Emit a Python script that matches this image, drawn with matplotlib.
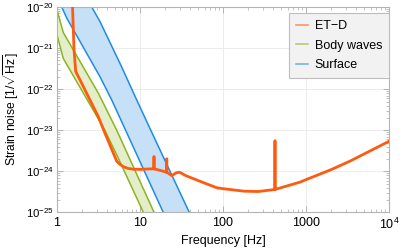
import math
import matplotlib
matplotlib.use("Agg")
import matplotlib.pyplot as plt
from matplotlib.lines import Line2D
from matplotlib.ticker import LogLocator, NullFormatter

plt.rcParams['font.family'] = ['Liberation Sans', 'DejaVu Sans']
plt.rcParams['mathtext.fontset'] = 'custom'
plt.rcParams['mathtext.rm'] = 'Liberation Sans'
plt.rcParams['mathtext.it'] = 'Liberation Sans:italic'

# ET-D sensitivity curve
etd_f = [1.535, 1.54, 1.60, 1.68, 1.89, 3.16, 3.78, 5.24, 5.75, 6.31, 7.2, 8.32, 10.0,
         13.2, 14.7, 14.75, 14.8, 17.8, 20.9, 21.0, 21.1, 24.1, 27.5, 30.2, 35.5,
         52.8, 84.0, 100.0, 180.0, 266.0, 420.0, 423.0, 426.0, 851.0, 1000.0,
         2000.0, 3390.0, 10000.0]
etd_h = [1.6e-20, 1.0e-20, 1.0e-21, 2.7e-22, 1.7e-22, 2.1e-23, 8.5e-24, 1.78e-24,
         1.48e-24, 1.30e-24, 1.18e-24, 1.13e-24, 1.12e-24,
         1.15e-24, 1.15e-24, 2.3e-24, 1.15e-24, 1.05e-24, 9.5e-25, 2.04e-24, 9.5e-25,
         7.9e-25, 9.3e-25, 9.5e-25, 7.9e-25,
         5.75e-25, 4.0e-25, 3.8e-25, 3.3e-25, 3.24e-25, 3.63e-25, 5.6e-24, 3.65e-25,
         5.5e-25, 6.3e-25,
         1.1e-24, 1.78e-24, 5.4e-24]

# body-wave Newtonian noise band
body_f_hi = [1.0, 1.19, 3.16, 5.25, 14.8, 17.8]
body_h_hi = [8.5e-21, 2.4e-21, 7.9e-23, 1.0e-23, 1.0e-25, 4.5e-26]
body_f_lo = [1.0, 1.19, 3.78, 5.69, 11.0, 13.2]
body_h_lo = [2.1e-21, 5.6e-22, 1.0e-23, 1.78e-24, 1.0e-25, 4.5e-26]

# surface-wave Newtonian noise band
surf_f_hi = [2.45, 2.62, 3.30, 6.01, 9.12, 13.5, 39.3, 45.0]
surf_h_hi = [1.6e-20, 1.0e-20, 4.4e-21, 3.5e-22, 5.5e-23, 1.0e-23, 1.0e-25, 5.0e-26]
surf_f_lo = [1.0, 1.14, 1.31, 3.30, 4.56, 19.1, 22.0]
surf_h_lo = [1.8e-20, 1.0e-20, 5.4e-21, 2.0e-22, 5.5e-23, 1.0e-25, 5.0e-26]

y_ticks = [1e-25, 1e-24, 1e-23, 1e-22, 1e-21, 1e-20]
x_ticks = [1, 10, 100, 1000, 10000]
x_tick_labels = ['1', '10', '100', '1000', r'$10^{4}$']

c_etd = '#ff5a0f'
c_body = '#8cb41e'
c_surf = '#1e8ce6'

fig = plt.figure(figsize=(4.03, 2.49), dpi=100)
ax = fig.add_axes([0.1414, 0.1466, 0.9653 - 0.1414, 0.9719 - 0.1466])
ax.set_xscale('log')
ax.set_yscale('log')

ax.fill(surf_f_hi + surf_f_lo[::-1], surf_h_hi + surf_h_lo[::-1],
        color='#c6e0f7', lw=0, zorder=1)
ax.fill(body_f_hi + body_f_lo[::-1], body_h_hi + body_h_lo[::-1],
        color='#e4eecb', lw=0, zorder=1)
ax.plot(surf_f_hi, surf_h_hi, color=c_surf, lw=1.1, zorder=2)
ax.plot(surf_f_lo, surf_h_lo, color=c_surf, lw=1.1, zorder=2)
ax.plot(body_f_hi, body_h_hi, color=c_body, lw=1.1, zorder=2)
ax.plot(body_f_lo, body_h_lo, color=c_body, lw=1.1, zorder=2)
ax.plot(etd_f, etd_h, color=c_etd, lw=2.0, zorder=3, solid_joinstyle='round')

ax.set_xlim(1, 1e4)
ax.set_ylim(1e-25, 1e-20)

ax.set_xticks(x_ticks, x_tick_labels)
ax.xaxis.set_minor_locator(LogLocator(base=10, subs=range(2, 10), numticks=20))
ax.xaxis.set_minor_formatter(NullFormatter())
ax.set_yticks(y_ticks, [r'$10^{%d}$' % round(math.log10(t)) for t in y_ticks])
ax.yaxis.set_minor_locator(LogLocator(base=10, subs=range(2, 10), numticks=20))
ax.yaxis.set_minor_formatter(NullFormatter())

ax.tick_params(which='both', direction='in', top=True, right=True,
               color='#aaaaaa', labelsize=9, pad=3)
ax.tick_params(axis='y', labelsize=8.2, pad=2)
ax.tick_params(which='major', length=4, width=0.6)
ax.tick_params(which='minor', length=2, width=0.5)
ax.grid(True, which='major', color='#ececec', lw=0.7)
ax.set_axisbelow(True)
for s in ax.spines.values():
    s.set_color('#b4b4b4')
    s.set_linewidth(0.8)

ax.set_xlabel('Frequency [Hz]', fontsize=9, labelpad=2)
ax.set_ylabel(r'Strain noise [1/$\sqrt{\mathrm{Hz}}$]', fontsize=8.7)
ax.yaxis.set_label_coords(-0.108, 0.5)

handles = [Line2D([], [], color=c_etd, lw=1.2, alpha=0.6),
           Line2D([], [], color=c_body, lw=1.2, alpha=0.6),
           Line2D([], [], color=c_surf, lw=1.2, alpha=0.6)]
leg = ax.legend(handles, ['ET\u2212D', 'Body waves', 'Surface'], loc='upper right',
                bbox_to_anchor=(1.0, 0.97), fontsize=9, frameon=True, fancybox=False,
                handlelength=1.0, handletextpad=0.5, borderpad=0.55,
                labelspacing=0.6, borderaxespad=0.0)
leg.get_frame().set_facecolor('#f2f2f2')
leg.get_frame().set_edgecolor('#bdbdbd')
leg.get_frame().set_linewidth(0.8)
leg.get_frame().set_alpha(1.0)

fig.savefig('out.png', dpi=100)
